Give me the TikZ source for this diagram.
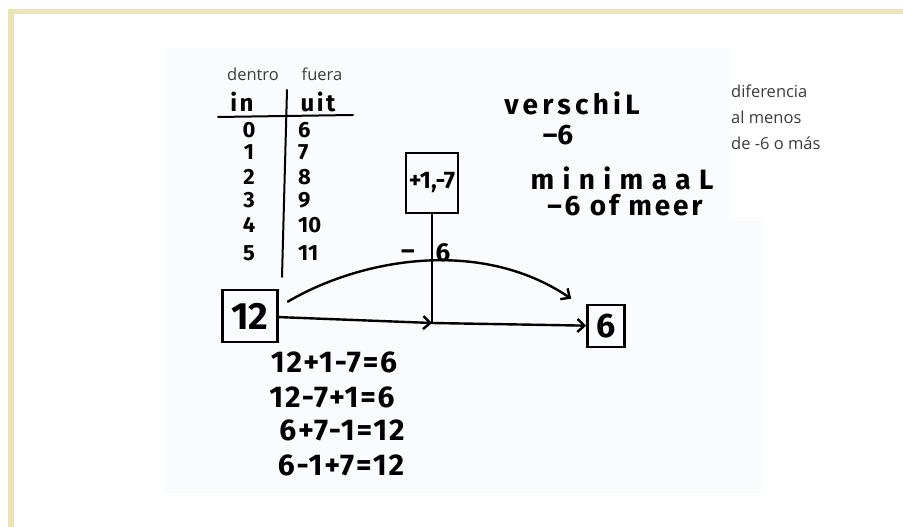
\documentclass[tikz,border=0pt]{standalone}
\usepackage{fontspec}
\setmainfont{Open Sans}
\newfontfamily\handfont{Fira Sans}
\usetikzlibrary{arrows.meta,positioning}
\definecolor{frame}{HTML}{EBE4B9}
\definecolor{paper}{HTML}{FAFBFD}
\definecolor{note}{HTML}{3C3C3C}
\tikzset{
  hand/.style={font=\handfont\bfseries\fontsize{#1}{#1}\selectfont, text=black, inner sep=0pt},
  hand/.default=22,
  handbox/.style={draw, line width=2.6pt},
  stroke/.style={line width=2.4pt, line cap=round, >={Straight Barb[length=7pt,width=13pt]}},
  note/.style={font=\fontsize{16.5}{26}\selectfont, text=note, align=left, inner sep=0pt}
}
\begin{document}
\begin{tikzpicture}[x=1pt,y=1pt]
  % FRAME
  \useasboundingbox (0,0) rectangle (903,527);
  \fill[frame] (8,0) rectangle (14,518);
  \fill[frame] (8,513) rectangle (903,518);
  \fill[paper] (164,34) rectangle (761,479);
  \fill[white] (729,310) rectangle (761,479);

  % TABLE
  \node[note] (dentro) at (253,453) {dentro};
  \node[note] (fuera)  at (322,453) {fuera};
  \node[hand=24] (in)  at (242,425) {\addfontfeatures{LetterSpace=10}in};
  \node[hand=24] (uit) at (318,425) {\addfontfeatures{LetterSpace=10}uit};
  \draw[stroke, line width=2pt] (218,410) -- (353,412);
  \draw[stroke, line width=2pt] (287,437) -- (282,250);
  \foreach \a/\b/\y in {0/6/397,1/7/375,2/8/350,3/9/327,4/10/302,5/11/274}
    \node[hand] (l\a) at (249,\y) {\a}
    node[hand, anchor=west] (r\a) at (298,\y) {\b};

  % BOXES
  \node[handbox, hand=38, minimum width=55, minimum height=52] (start) at (250,211) {12};
  \node[handbox, hand=24, minimum width=52, minimum height=60] (ops)   at (432,344) {+1,-7};
  \node[handbox, hand=34, minimum width=37, minimum height=42] (end)   at (606,201) {6};
  \coordinate (jn) at (432,204);
  \node[hand=26] (minus) at (408,272) {–};
  \node[hand=26] (diff)  at (443,274) {6};

  % ARROWS
  \draw[stroke] (ops) -- (jn);
  \draw[stroke,->] (start) -- (jn);
  \draw[stroke,->] (jn) -- (end);
  \draw[stroke,->] ([shift={(9,-13)}]start.north east)
    .. controls (360,268) and (480,290) .. ([shift={(-15,5)}]end.north west);

  % SUMS
  \foreach \t/\x/\y [count=\i] in {12+1-7=6/334/165, 12-7+1=6/332/130, 6+7-1=12/342/97, 6-1+7=12/341/62}
    \node[hand=30] (sum\i) at (\x,\y) {\addfontfeatures{LetterSpace=6}\t};

  % VERSCHIL
  \node[hand=28] (verschil) at (572,424) {\addfontfeatures{LetterSpace=15}verschiL};
  \node[hand=28] (vmin)     at (558,392) {–6};
  \node[hand=28] (minimaal) at (622,349) {\addfontfeatures{LetterSpace=30}minimaaL};
  \node[hand=28] (meer)     at (625,322) {\addfontfeatures{LetterSpace=10}–6 of meer};

  % NOTE
  \node[note, anchor=north west] (trans) at (731,442) {diferencia\\al menos\\de -6 o más};
\end{tikzpicture}
\end{document}
